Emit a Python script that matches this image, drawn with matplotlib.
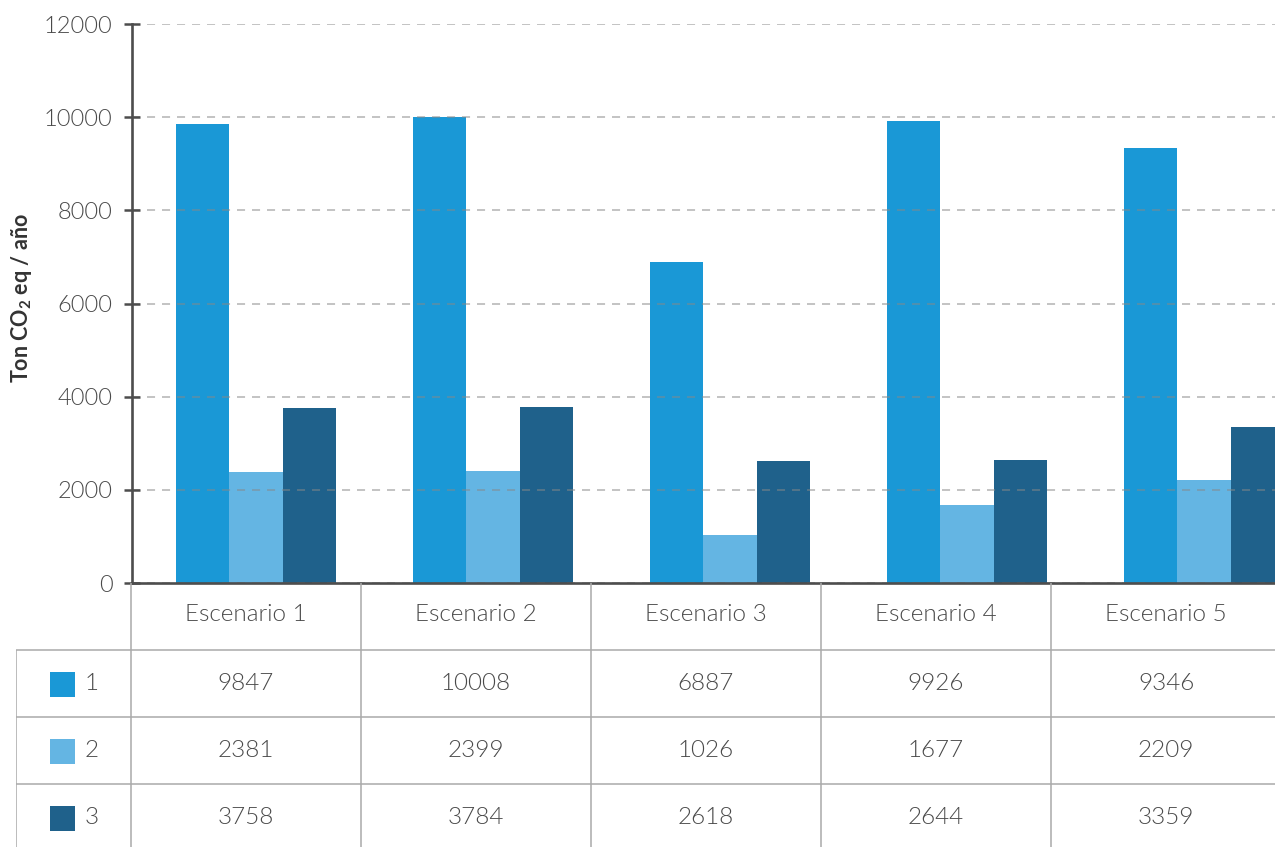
import matplotlib
matplotlib.use("Agg")
import matplotlib.pyplot as plt
import numpy as np

# data
scenarios = ["Escenario 1", "Escenario 2", "Escenario 3", "Escenario 4", "Escenario 5"]
series_names = ["1", "2", "3"]
serie_1 = [9847, 10008, 6887, 9926, 9346]
serie_2 = [2381, 2399, 1026, 1677, 2209]
serie_3 = [3758, 3784, 2618, 2644, 3359]
y_ticks = [0, 2000, 4000, 6000, 8000, 10000, 12000]
y_label = r"Ton CO$_\mathbf{2}$ eq / año"

colors = ["#1a98d6", "#64b5e3", "#1f618b"]
text_color = "#4a4a4a"
axis_color = "#4d4d4d"
table_line = "#aaaaaa"
light = 300

plt.rcParams["font.family"] = ["Lato", "DejaVu Sans"]
plt.rcParams["mathtext.fontset"] = "custom"
plt.rcParams["mathtext.rm"] = "Lato"
plt.rcParams["mathtext.bf"] = "Lato:bold"
plt.rcParams["lines.scale_dashes"] = False

W, H = 1275, 847
fig = plt.figure(figsize=(W / 100, H / 100), dpi=100)

# bar chart, pixel layout measured on the reference
ax = fig.add_axes([132 / W, (H - 583) / H, (W - 132) / W, (583 - 24) / H])
x = np.arange(len(scenarios))
width = 0.225
all_series = [serie_1, serie_2, serie_3]
for i, (vals, col) in enumerate(zip(all_series, colors)):
    ax.bar(x + (i - 1) * width, vals, width, color=col, linewidth=0, zorder=1)

ax.set_xlim(-0.523, (W - 256) / 237)
ax.set_ylim(0, 12000)
ax.set_yticks(y_ticks)
ax.set_yticklabels([str(t) for t in y_ticks])
ax.set_xticks([])
ax.yaxis.grid(True, linestyle=(0, (5.8, 5.0)), color="#888888", alpha=0.5, linewidth=1.4)
ax.set_axisbelow(False)
for side in ["top", "right"]:
    ax.spines[side].set_visible(False)
for side in ["left", "bottom"]:
    ax.spines[side].set_color(axis_color)
    ax.spines[side].set_linewidth(1.9)
    ax.spines[side].set_zorder(3)
ax.tick_params(axis="y", direction="inout", length=12, width=1.8, color=axis_color,
               pad=8, labelsize=17, labelcolor=text_color)
for lab in ax.get_yticklabels():
    lab.set_fontweight(light)

fig.text(22 / W, 1 - 298 / H, y_label, rotation=90, ha="center", va="center",
         fontsize=15.5, fontweight="bold", color="#333333")

# data table below the chart
tax = fig.add_axes([16 / W, 0, (W - 16) / W, (H - 583) / H])
x_max = (W - 131) / 230
y_max = (H - 583) / 67
tax.set_xlim(-0.5, x_max)
tax.set_ylim(y_max, 0)
tax.axis("off")

tax.hlines([1, 2, 3], -0.5, x_max, color=table_line, linewidth=1.1)
tax.vlines(range(len(scenarios)), 0, y_max, color=table_line, linewidth=1.1)
tax.vlines(-0.5, 1, y_max, color=table_line, linewidth=1.1)

for j, name in enumerate(scenarios):
    tax.text(j + 0.5, 0.47, name, ha="center", va="center", fontsize=17.5,
             fontweight=light, color=text_color)

for r, (vals, col, name) in enumerate(zip(all_series, colors, series_names)):
    yc = r + 1.5
    tax.scatter([-0.302], [yc], marker="s", s=18 ** 2, color=col, linewidths=0)
    tax.text(-0.17, yc, name, ha="center", va="center", fontsize=17.5,
             fontweight=light, color=text_color)
    for j, v in enumerate(vals):
        tax.text(j + 0.5, yc, str(v), ha="center", va="center", fontsize=17.5,
                 fontweight=light, color=text_color)

fig.savefig("out.png", dpi=100)
